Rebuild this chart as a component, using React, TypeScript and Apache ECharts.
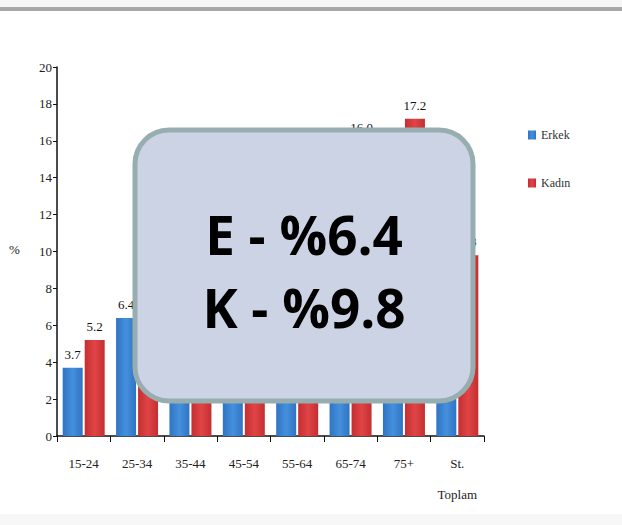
import React, { useEffect, useRef } from "react";
import * as echarts from "echarts";

const categories = ["15-24", "25-34", "35-44", "45-54", "55-64", "65-74", "75+", "St.\nToplam"];
const erkek = [3.7, 6.4, 5.6, 6.2, 8.0, 11.0, 12.5, 6.4];
const kadin = [5.2, 8.2, 8.8, 10.2, 13.5, 16.0, 17.2, 9.8];
const yTicks = { min: 0, max: 20, interval: 2 };
const boxLines = ["E - %6.4", "K - %9.8"];
// value labels that sit under the overlay box in the reference
const hiddenErkek = [2, 3, 4, 5, 6, 7];
const hiddenKadin = [1, 2, 3, 4];

export default function App() {
  const ref = useRef<HTMLDivElement>(null);
  useEffect(() => {
    if (!ref.current) return;
    const chart = echarts.init(ref.current, null, { renderer: "svg" });
    const serif = "Liberation Serif";
    const labelStyle = {
      show: true,
      position: "top" as const,
      distance: 7,
      fontFamily: serif,
      fontSize: 13,
      color: "#111",
      formatter: (p: any) => Number(p.value).toFixed(1),
    };
    const mk = (vals: number[], hidden: number[]) =>
      vals.map((v, i) => (hidden.includes(i) ? { value: v, label: { show: false } } : v));
    chart.setOption({
      animation: false,
      backgroundColor: "#ffffff",
      grid: { left: 57, right: 138, top: 67, bottom: 89 },
      legend: {
        orient: "vertical",
        left: 523,
        top: 124,
        itemWidth: 8,
        itemHeight: 9,
        itemGap: 36,
        icon: "rect",
        textStyle: { fontFamily: serif, fontSize: 12, color: "#333" },
        data: ["Erkek", "Kadın"],
      },
      xAxis: {
        type: "category",
        data: categories,
        axisLine: { lineStyle: { color: "#111", width: 1.5 } },
        axisTick: { show: true, length: 6, lineStyle: { color: "#111" } },
        axisLabel: {
          fontFamily: serif,
          fontSize: 13,
          color: "#222",
          margin: 12,
          lineHeight: 31,
        },
      },
      yAxis: {
        type: "value",
        min: yTicks.min,
        max: yTicks.max,
        interval: yTicks.interval,
        splitLine: { show: false },
        axisLine: { show: true, lineStyle: { color: "#111", width: 1.5 } },
        axisTick: { show: true, length: 4, lineStyle: { color: "#111" } },
        axisLabel: { fontFamily: serif, fontSize: 13, color: "#222", margin: 5 },
      },
      series: [
        {
          name: "Erkek",
          type: "bar",
          data: mk(erkek, hiddenErkek),
          barWidth: 20,
          barGap: "10%",
          itemStyle: {
            color: new echarts.graphic.LinearGradient(0, 0, 1, 0, [
              { offset: 0, color: "#2f74c4" },
              { offset: 0.5, color: "#4590dc" },
              { offset: 1, color: "#2f74c4" },
            ]),
          },
          label: labelStyle,
        },
        {
          name: "Kadın",
          type: "bar",
          data: mk(kadin, hiddenKadin),
          barWidth: 20,
          itemStyle: {
            color: new echarts.graphic.LinearGradient(0, 0, 1, 0, [
              { offset: 0, color: "#c42f31" },
              { offset: 0.5, color: "#e04446" },
              { offset: 1, color: "#c42f31" },
            ]),
          },
          label: labelStyle,
        },
      ],
      graphic: [
        {
          type: "rect",
          shape: { x: 0, y: 0, width: 622, height: 8 },
          style: { fill: "#f6f6f6" },
          z: 10,
        },
        {
          type: "rect",
          shape: { x: 0, y: 7, width: 622, height: 4 },
          style: { fill: "#a8a8a8" },
          z: 10,
        },
        {
          type: "rect",
          shape: { x: 0, y: 514, width: 622, height: 11 },
          style: { fill: "#f7f7f7" },
          z: 10,
        },
        {
          type: "text",
          left: 9,
          top: 243,
          style: { text: "%", fontFamily: serif, fontSize: 13, fill: "#222" },
        },
        {
          type: "rect",
          shape: { x: 135, y: 130, width: 338, height: 271, r: 34 },
          style: { fill: "#cbd3e4", stroke: "#97aeb0", lineWidth: 5 },
          z: 100,
        },
        {
          type: "text",
          x: 304,
          y: 234,
          z: 101,
          style: {
            text: boxLines[0],
            fontFamily: "Open Sans",
            fontWeight: "bold",
            fontSize: 53,
            fill: "#000",
            align: "center",
            verticalAlign: "middle",
          },
        },
        {
          type: "text",
          x: 304,
          y: 307,
          z: 101,
          style: {
            text: boxLines[1],
            fontFamily: "Open Sans",
            fontWeight: "bold",
            fontSize: 53,
            fill: "#000",
            align: "center",
            verticalAlign: "middle",
          },
        },
      ],
    });
    return () => chart.dispose();
  }, []);
  return <div ref={ref} style={{ width: 622, height: 525, position: "absolute", left: 0, top: 0 }} />;
}
